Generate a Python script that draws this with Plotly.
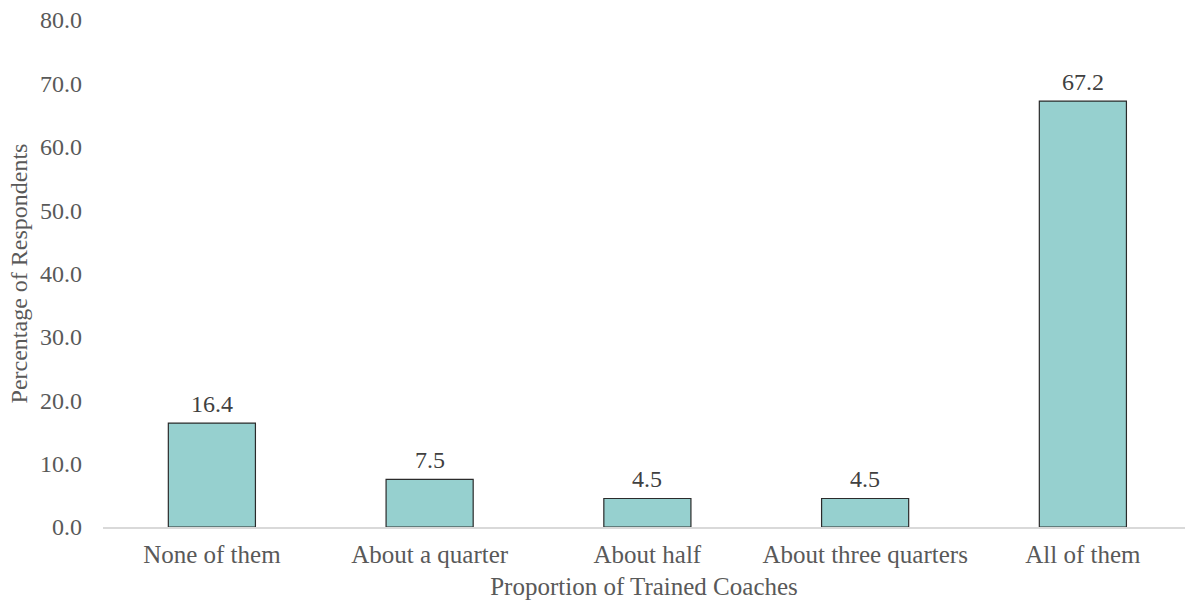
import plotly.graph_objects as go

categories = ["None of them", "About a quarter", "About half", "About three quarters", "All of them"]
values = [16.4, 7.5, 4.5, 4.5, 67.2]
labels = [f"{v:.1f}" for v in values]
y_ticks = [0, 10, 20, 30, 40, 50, 60, 70, 80]

FONT = "Liberation Serif, Times New Roman, serif"
xs = list(range(len(categories)))

fig = go.Figure(go.Bar(
    x=xs,
    y=values,
    width=0.4,
    marker=dict(color="#96D0CF", line=dict(color="#2b2b2b", width=1.2)),
))

for x, v, t in zip(xs, values, labels):
    fig.add_annotation(x=x, y=v, text=t, showarrow=False, yanchor="bottom",
                       yshift=4, font=dict(family=FONT, size=24, color="#404040"))

fig.update_layout(
    width=1185, height=607,
    margin=dict(l=103, r=0, t=20, b=80),
    plot_bgcolor="white", paper_bgcolor="white",
    font=dict(family=FONT, size=24, color="#595959"),
    showlegend=False,
    xaxis=dict(
        range=[-0.5, 4.469],
        tickmode="array",
        tickvals=xs,
        ticktext=categories,
        showline=True, linecolor="#d9d9d9", linewidth=1.5,
        showgrid=False, ticks="", zeroline=False,
        ticklabelstandoff=4,
        title=dict(text="Proportion of Trained Coaches", standoff=11,
                   font=dict(size=25, color="#595959")),
        tickfont=dict(size=25, color="#595959"),
    ),
    yaxis=dict(
        range=[0, 80],
        tickmode="array",
        tickvals=y_ticks,
        ticktext=[f"{v:.1f}" for v in y_ticks],
        showline=False, showgrid=False, zeroline=False,
        ticks="", ticklabelstandoff=20,
        title=dict(text="Percentage of Respondents", standoff=5,
                   font=dict(size=24, color="#595959")),
        tickfont=dict(size=24, color="#595959"),
    ),
)

fig.write_html("out.html")
